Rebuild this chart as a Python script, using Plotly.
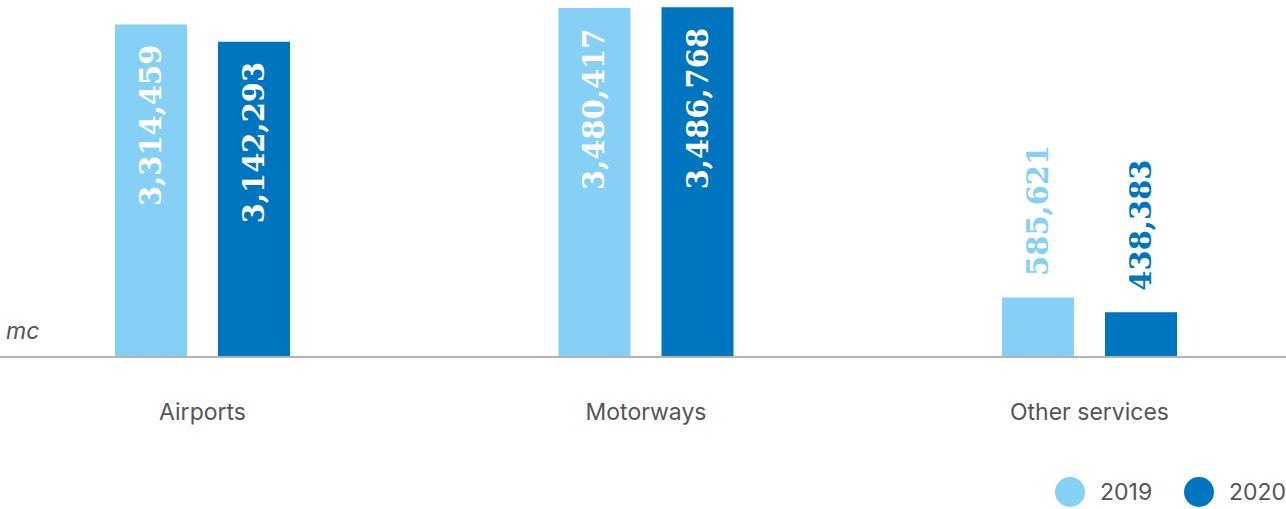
import plotly.graph_objects as go

categories = ["Airports", "Motorways", "Other services"]
series_names = ["2019", "2020"]
values_2019 = [3314459, 3480417, 585621]
values_2020 = [3142293, 3486768, 438383]
series_values = [values_2019, values_2020]
colors = ["#86D0F5", "#0075BF"]

W, H = 1286, 509
plot_bottom = 356
fig = go.Figure()
for name, vals, col in zip(series_names, series_values, colors):
    fig.add_trace(go.Bar(x=categories, y=vals, name=name, marker=dict(color=col, line=dict(width=0)),
                         showlegend=False, hoverinfo="x+y"))

# value labels
slot_px = 103
threshold = 1500000
for i, (vals, col) in enumerate(zip(series_values, colors)):
    for j, v in enumerate(vals):
        inside = v > threshold
        fig.add_annotation(x=j, y=v, xref="x", yref="y", text=f"{v:,}", textangle=-90,
                           showarrow=False, xshift=(i - 0.5) * slot_px,
                           yanchor="top" if inside else "bottom",
                           yshift=-19 if inside else 19,
                           font=dict(family="DejaVu Serif", size=29, color="white" if inside else col, weight="bold"))

fig.add_annotation(x=4 / W, y=(plot_bottom - 331) / plot_bottom, xref="paper", yref="paper",
                   text="<i>mc</i>", showarrow=False, xanchor="left",
                   yanchor="middle", font=dict(family="Inter", size=23, color="#555555"))

# legend drawn as circles + text
legend_cx = [1070, 1199]
legend_y = (plot_bottom - 492) / plot_bottom
for name, col, cx in zip(series_names, colors, legend_cx):
    fig.add_shape(type="circle", xref="paper", yref="paper", xsizemode="pixel", ysizemode="pixel",
                  xanchor=cx / W, yanchor=legend_y, x0=-15, x1=15, y0=-15, y1=15,
                  fillcolor=col, line=dict(width=0))
    fig.add_annotation(x=(cx + 28) / W, y=legend_y, xref="paper", yref="paper", text=name,
                       showarrow=False, xanchor="left", yanchor="middle",
                       font=dict(family="Inter", size=23, color="#555555"))

cat_px = 443.5
first_center = 202.5
fig.update_layout(
    width=W, height=H,
    margin=dict(l=0, r=0, t=0, b=H - plot_bottom, pad=0),
    plot_bgcolor="white", paper_bgcolor="white",
    barmode="group", bargap=1 - 2 * slot_px / cat_px, bargroupgap=31 / slot_px,
    xaxis=dict(range=[-first_center / cat_px, (W - first_center) / cat_px],
               showline=True, linecolor="#b3b3b3", linewidth=2, ticks="", showgrid=False,
               tickfont=dict(family="Inter", size=23, color="#555555"), ticklabelstandoff=34),
    yaxis=dict(visible=False, range=[0, 3560000], showgrid=False, zeroline=False),
)
fig.write_html("out.html", config={"displayModeBar": False},
               post_script="document.body.style.margin='0';document.body.style.overflow='hidden';")
